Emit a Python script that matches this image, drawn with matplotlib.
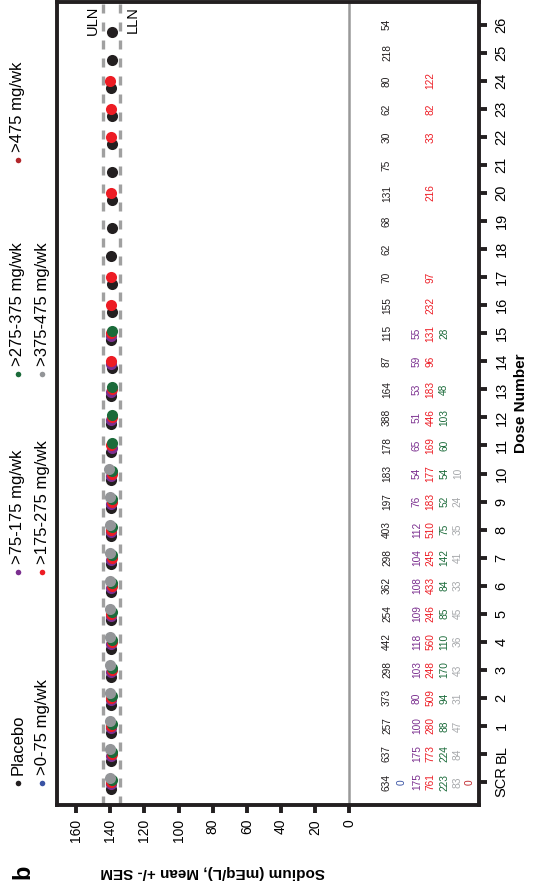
import matplotlib
matplotlib.use("Agg")
import matplotlib.pyplot as plt
import numpy as np

plt.rcParams['font.family'] = ['Liberation Sans', 'DejaVu Sans']

# ---- data ----
doses = ['SCR', 'BL'] + [str(i) for i in range(1, 27)]
groups = ['Placebo', '>0-75 mg/wk', '>75-175 mg/wk', '>175-275 mg/wk',
          '>275-375 mg/wk', '>375-475 mg/wk', '>475 mg/wk']
colors = ['#231f20', '#3953a4', '#7b2f8f', '#ed1c24', '#1b6b3a', '#939598', '#b2262b']
text_colors = ['#231f20', '#3953a4', '#7b2f8f', '#ed1c24', '#1b6b3a', '#a7a9ac', '#c1272d']

N = None
counts_placebo = [634, 637, 257, 373, 298, 442, 254, 362, 298, 403, 197, 183, 178, 388,
                  164, 87, 115, 155, 70, 62, 68, 131, 75, 30, 62, 80, 218, 54]
counts_0_75 = [0] + [N] * 27
counts_75_175 = [175, 175, 100, 80, 103, 118, 109, 108, 104, 112, 76, 54, 65, 51,
                 53, 59, 55] + [N] * 11
counts_175_275 = [761, 773, 280, 509, 248, 560, 246, 433, 245, 510, 183, 177, 169, 446,
                  183, 96, 131, 232, 97, N, N, 216, N, 33, 82, 122, N, N]
counts_275_375 = [223, 224, 88, 94, 170, 110, 85, 84, 142, 75, 52, 54, 60, 103,
                  48, N, 28] + [N] * 11
counts_375_475 = [83, 84, 47, 31, 43, 36, 45, 33, 41, 35, 24, 10] + [N] * 16
counts_475 = [0] + [N] * 27

mean_placebo = [139.6, 139.5, 139.7, 139.6, 139.5, 139.6, 139.4, 139.5, 139.6, 139.4,
                139.5, 139.3, 139.4, 139.5, 139.3, 139.2, 139.4, 139.2, 139.1, 139.3,
                139.0, 139.2, 139.1, 139.0, 139.2, 139.3, 139.0, 139.1]
mean_0_75 = [N] * 28
mean_75_175 = [139.5, 139.4, 139.6, 139.5, 139.3, 139.5, 139.4, 139.6, 139.4, 139.3,
               139.5, 139.4, 139.2, 139.4, 139.3, 139.4, 139.5] + [N] * 11
mean_175_275 = [139.3, 139.2, 139.4, 139.3, 139.2, 139.0, 139.3, 139.1, 139.2, 139.3,
                139.1, 139.2, 139.3, 139.0, 139.2, 139.6, 139.4, 139.8, 139.6, N,
                N, 139.7, N, 139.4, 139.6, 139.9, N, N]
mean_275_375 = [139.0, 138.9, 139.1, 138.9, 139.0, 138.8, 139.1, 138.9, 139.0, 138.8,
                139.0, 139.1, 139.2, 139.0, 139.1, N, 139.0] + [N] * 11
mean_375_475 = [140.2, 140.0, 140.3, 140.1, 139.9, 140.2, 140.3, 140.0, 140.1, 140.4,
                140.2, 140.6] + [N] * 16
mean_475 = [N] * 28

counts = [counts_placebo, counts_0_75, counts_75_175, counts_175_275,
          counts_275_375, counts_375_475, counts_475]
means = [mean_placebo, mean_0_75, mean_75_175, mean_175_275,
         mean_275_375, mean_375_475, mean_475]

uln, lln = 144.5, 134.5
count_cols = [-22, -30.5, -39.5, -47.5, -55.5, -63.5, -70.5]
dodge = [-0.24, -0.16, -0.08, 0.0, 0.08, 0.16, 0.24]

# ---- figure ----
fig = plt.figure(figsize=(5.36, 8.91), dpi=100)
ax = fig.add_axes([0.107, 0.0965, 0.787, 0.9015])

pos = np.arange(len(doses))

ax.axvline(0, color='#999999', lw=1.8, zorder=1)
ax.axvline(uln, color='#a0a0a0', lw=2.4, ls=(0, (2.7, 2.7)), zorder=1)
ax.axvline(lln, color='#a0a0a0', lw=2.4, ls=(0, (2.7, 2.7)), zorder=1)
ax.text(150, 0.995, 'ULN', transform=ax.get_xaxis_transform(), rotation=90,
        ha='center', va='top', fontsize=10.5)
ax.text(127, 0.995, 'LLN', transform=ax.get_xaxis_transform(), rotation=90,
        ha='center', va='top', fontsize=10.5)

for g in range(len(groups)):
    m = np.array([np.nan if v is None else v for v in means[g]], dtype=float)
    ok = ~np.isnan(m)
    ax.plot(m[ok], pos[ok] + dodge[g], 'o', color=colors[g], ms=8,
            mec='none', zorder=3 + g)
    for i, c in enumerate(counts[g]):
        if c is not None:
            ax.text(count_cols[g], pos[i], str(c), rotation=90, ha='center',
                    va='center', fontsize=7.3, color=text_colors[g])

ax.set_xlim(171, -76)
ax.set_ylim(-0.82, len(doses) - 0.18)
ax.set_xticks(np.arange(0, 161, 20))
ax.set_xticklabels([str(v) for v in range(0, 161, 20)], rotation=90, fontsize=10)
ax.set_yticks(pos)
ax.set_yticklabels(doses, rotation=90, va='center', fontsize=10.5)
ax.yaxis.tick_right()
ax.yaxis.set_label_position('right')
ax.set_ylabel('Dose Number', fontsize=11, fontweight='bold', rotation=90, labelpad=4)
ax.tick_params(axis='both', length=6, width=2.8, color='#231f20')
ax.tick_params(axis='y', pad=5)
ax.tick_params(axis='x', pad=4)
for s in ax.spines.values():
    s.set_linewidth(2.8)
    s.set_color('#231f20')

ax.text(80, -0.083, 'Sodium (mEq/L), Mean +/- SEM', transform=ax.get_xaxis_transform(),
        rotation=180, ha='center', va='center', fontsize=11, fontweight='bold')
fig.text(23 / 536, 1 - 872 / 891, 'b', rotation=90, ha='center', va='center',
         fontsize=17, fontweight='bold')

# ---- legend (rotated, drawn by hand) ----
lax = fig.add_axes([0, 0, 1, 1])
lax.set_xlim(0, 536)
lax.set_ylim(891, 0)
lax.axis('off')
leg_cols = [783, 572, 374, 160]
leg_rows = [18, 42]
for g, name in enumerate(groups):
    cx = leg_rows[g % 2]
    cy = leg_cols[g // 2]
    lax.plot(cx, cy, 'o', color=colors[g], ms=4, mec='none')
    lax.text(cx, cy - 8, name, rotation=90, ha='center', va='bottom', fontsize=12)

fig.savefig('out.png', dpi=100)
